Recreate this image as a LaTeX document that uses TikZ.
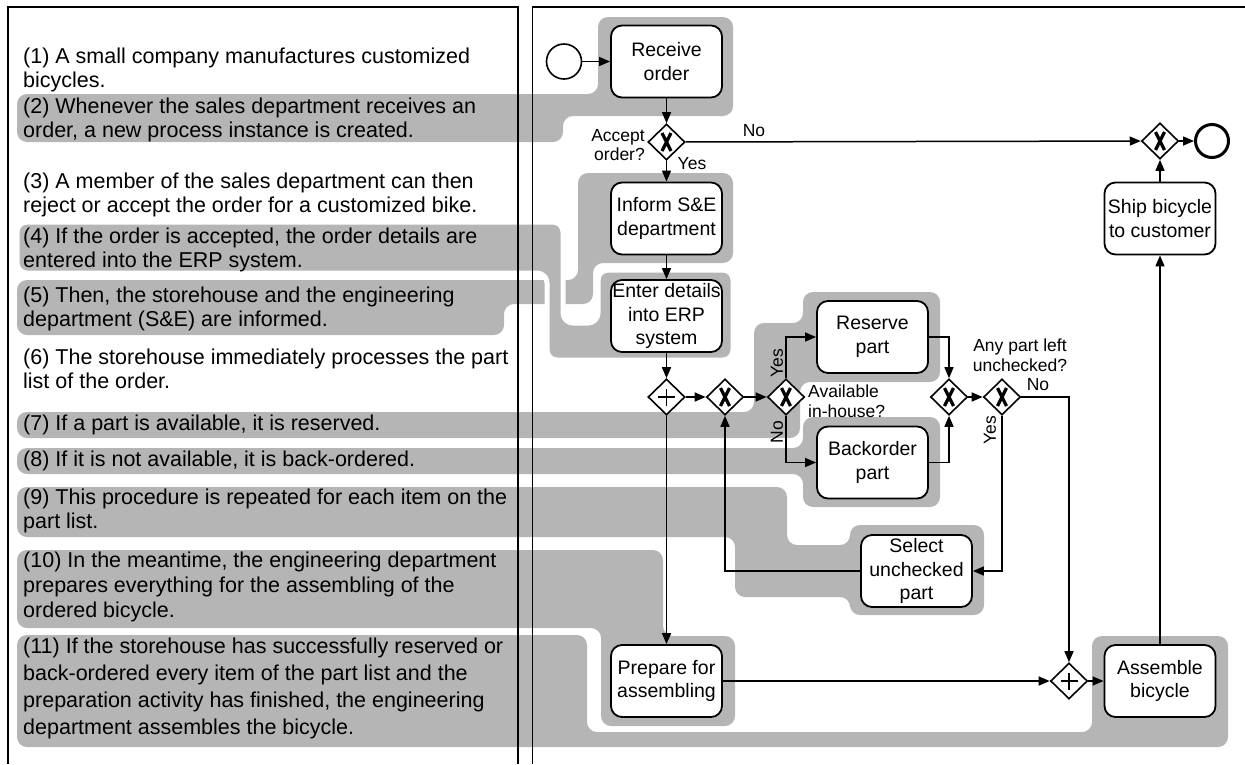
\documentclass[tikz,border=0pt]{standalone}
\usepackage{fontspec}
\setmainfont{Liberation Sans}
\usetikzlibrary{arrows.meta,shapes.geometric}
\definecolor{band}{RGB}{181,181,181}
\begin{document}
\begin{tikzpicture}[x=1pt,y=-1pt,
  hl/.style={fill=band, rounded corners=10pt},
  hlcut/.style={fill=band, draw=white, line width=5pt, rounded corners=10pt},
  frame/.style={line width=1.5pt},
  task/.style={rectangle, rounded corners=11pt, draw, line width=1.8pt, fill=white,
    minimum width=111pt, minimum height=72pt, align=center, inner sep=0pt,
    font=\fontsize{19.5}{23.5}\selectfont},
  gw/.style={diamond, draw, fill=white, line width=1.6pt, minimum width=37pt,
    minimum height=36pt, inner sep=0pt},
  xorgw/.style={gw, path picture={
    \draw[line width=3.2pt]
      ([xshift=-4.5pt,yshift=-9pt]path picture bounding box.center) --
      ([xshift=4.5pt,yshift=9pt]path picture bounding box.center)
      ([xshift=-4.5pt,yshift=9pt]path picture bounding box.center) --
      ([xshift=4.5pt,yshift=-9pt]path picture bounding box.center);}},
  andgw/.style={gw, path picture={
    \draw[line width=1.8pt]
      ([xshift=-8.5pt]path picture bounding box.center) --
      ([xshift=8.5pt]path picture bounding box.center)
      ([yshift=-8.5pt]path picture bounding box.center) --
      ([yshift=8.5pt]path picture bounding box.center);}},
  startev/.style={circle, draw, fill=white, line width=1.6pt, minimum size=35pt, inner sep=0pt},
  endev/.style={circle, draw, fill=white, line width=3pt, minimum size=33pt, inner sep=0pt},
  conn/.style={line width=1.5pt, -{Triangle[length=11pt,width=9pt]}},
  lbl/.style={inner sep=0pt, font=\fontsize{17.5}{19.5}\selectfont},
  lt/.style={anchor=north west, inner sep=0pt, align=left}
]
\useasboundingbox (0,0) rectangle (1245,764);

% ---------- highlight bands ----------
% (2) -> Receive order
\fill[hl] (17,94) -- (598,94) -- (598,17) -- (733,17) -- (733,116) -- (563,116)
  -- (563,142) -- (17,142) -- cycle;
% (5) -> Inform S&E
\fill[hl] (17,280) -- (578,280) -- (578,173) -- (733,173) -- (733,263) -- (593,263)
  -- (593,304) -- (504,304) -- (504,335) -- (17,335) -- cycle;
% (4) -> Enter details
\filldraw[hlcut] (17,222) -- (563,222) -- (563,323) -- (598,323) -- (598,270)
  -- (733,270) -- (733,360) -- (547,360) -- (547,273) -- (17,273) -- cycle;
% (7) -> Reserve part
\fill[hl] (17,412) -- (754,412) -- (754,323) -- (803,323) -- (803,292) -- (940,292)
  -- (940,382) -- (800,382) -- (800,438) -- (17,438) -- cycle;
% (8) -> Backorder part
\fill[hl] (17,448) -- (803,448) -- (803,417) -- (940,417) -- (940,507) -- (803,507)
  -- (803,474) -- (17,474) -- cycle;
% (9) -> Select unchecked part
\fill[hl] (17,487) -- (787,487) -- (787,545) -- (850,545) -- (850,525) -- (984,525)
  -- (984,615) -- (850,615) -- (850,597) -- (735,597) -- (735,537) -- (17,537) -- cycle;
% (10) -> Prepare for assembling
\fill[hl] (17,550) -- (663,550) -- (663,636) -- (735,636) -- (735,726) -- (601,726)
  -- (601,628) -- (17,628) -- cycle;
% (11) -> Assemble bicycle
\fill[hl] (17,635) -- (587,635) -- (587,732) -- (1092,732) -- (1092,636) -- (1228,636)
  -- (1228,747) -- (17,747) -- cycle;

% ---------- frames ----------
\draw[frame] (8,764) -- (8,7) -- (518,7) -- (518,764);
\draw[frame] (532.5,764) -- (532.5,7) -- (1245,7);

% ---------- left text ----------
\begin{scope}[font=\fontsize{21.5}{24}\selectfont]
\node[lt] (T1) at (23,48) {(1) A small company manufactures customized\\bicycles.};
\node[lt] (T2) at (23,97.4) {(2) Whenever the sales department receives an\\order, a new process instance is created.};
\node[lt] (T3) at (23,172.4) {(3) A member of the sales department can then\\reject or accept the order for a customized bike.};
\node[lt] (T4) at (23,227.4) {(4) If the order is accepted, the order details are\\entered into the ERP system.};
\node[lt] (T5) at (23,286.4) {(5) Then, the storehouse and the engineering\\department (S\&E) are informed.};
\node[lt] (T6) at (23,348.4) {(6) The storehouse immediately processes the part\\list of the order.};
\node[lt] (T7) at (23,414.4) {(7) If a part is available, it is reserved.};
\node[lt] (T8) at (23,450.4) {(8) If it is not available, it is back-ordered.};
\node[lt] (T9) at (23,488.4) {(9) This procedure is repeated for each item on the\\part list.};
\node[lt, font=\fontsize{21.5}{25}\selectfont] (T10) at (23,551.4) {(10) In the meantime, the engineering department\\prepares everything for the assembling of the\\ordered bicycle.};
\node[lt, font=\fontsize{21.5}{27}\selectfont] (T11) at (23,638) {(11) If the storehouse has successfully reserved or\\back-ordered every item of the part list and the\\preparation activity has finished, the engineering\\department assembles the bicycle.};
\end{scope}

% ---------- process nodes ----------
\node[startev] (S) at (564,61.5) {};
\node[task] (R) at (666.5,61.5) {Receive\\order};
\node[xorgw] (G1) at (666.5,142) {};
\node[task] (I) at (666.5,218.5) {Inform S\&E\\department};
\node[task] (E) at (666.5,316) {Enter details\\into ERP\\system};
\node[andgw] (A1) at (666.5,397) {};
\node[xorgw] (X2) at (725,397) {};
\node[xorgw] (X3) at (786,397) {};
\node[task] (RP) at (872.5,337) {Reserve\\part};
\node[task] (BP) at (872.5,462.5) {Backorder\\part};
\node[xorgw] (X4) at (949,397) {};
\node[xorgw] (X5) at (1002,397) {};
\node[task] (SL) at (916.5,571) {Select\\unchecked\\part};
\node[task] (P) at (666.5,681) {Prepare for\\assembling};
\node[andgw] (J) at (1069,681) {};
\node[task] (AB) at (1160,681) {Assemble\\bicycle};
\node[task] (SH) at (1160,218.5) {Ship bicycle\\to customer};
\node[xorgw] (EX) at (1160,141) {};
\node[endev] (EE) at (1212,141) {};

% ---------- labels ----------
\node[lbl, anchor=east, align=right] (L1) at (645,145) {Accept\\order?};
\node[lbl] (L2) at (692,164) {Yes};
\node[lbl] (L3) at (754,131) {No};
\node[lbl, rotate=90] (L4) at (777,363) {Yes};
\node[lbl, rotate=90] (L5) at (777,432) {No};
\node[lbl, anchor=west, align=left] (L6) at (808,401) {Available\\in-house?};
\node[lbl, align=center] (L7) at (1020,355) {Any part left\\unchecked?};
\node[lbl] (L8) at (1038,385) {No};
\node[lbl, rotate=90] (L9) at (990,430) {Yes};

% ---------- connectors ----------
\draw[conn] (S) -- (R);
\draw[conn] (R) -- (G1);
\draw[conn] (G1) -- (I);
\draw[conn] (G1) -- (EX);
\draw[conn] (I) -- (E);
\draw[conn] (E) -- (A1);
\draw[conn] (A1) -- (X2);
\draw[conn] (X2) -- (X3);
\draw[conn] (X3.north) |- (RP.west);
\draw[conn] (X3.south) |- (BP.west);
\draw[conn] (RP.east) -| (X4.north);
\draw[conn] (BP.east) -| (X4.south);
\draw[conn] (X4) -- (X5);
\draw[conn] (X5.east) -| (J.north);
\draw[conn] (X5.south) |- (SL.east);
\draw[conn] (SL.west) -| (X2.south);
\draw[conn] (A1) -- (P);
\draw[conn] (P) -- (J);
\draw[conn] (J) -- (AB);
\draw[conn] (AB) -- (SH);
\draw[conn] (SH) -- (EX);
\draw[conn] (EX) -- (EE);
\end{tikzpicture}
\end{document}
